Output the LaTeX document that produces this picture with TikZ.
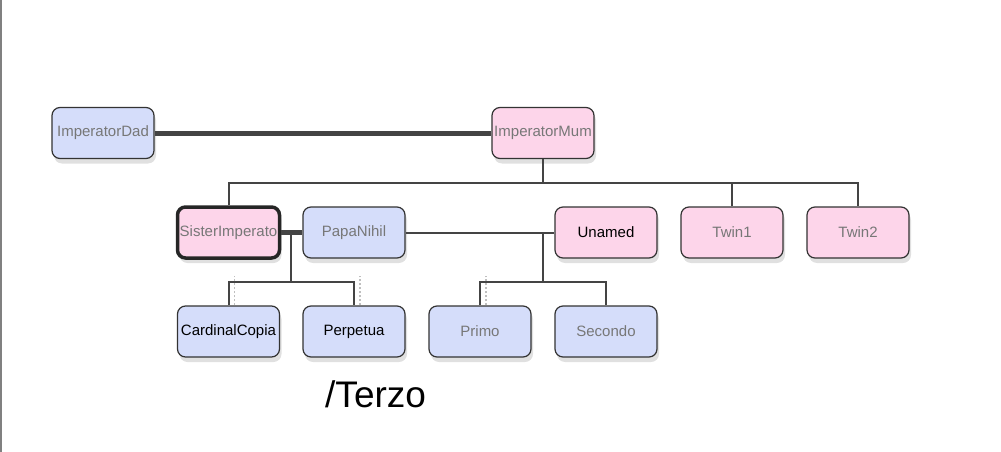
\documentclass[tikz,border=0pt]{standalone}
\usepackage{fontspec}
\setmainfont{Liberation Sans}
\usetikzlibrary{shadows,calc}
\definecolor{bluef}{HTML}{D5DDFA}
\definecolor{pinkf}{HTML}{FDD5EA}
\definecolor{edge}{HTML}{333333}
\definecolor{linec}{HTML}{444444}
\definecolor{txtgray}{HTML}{777777}
\tikzset{
  person/.style={rectangle, rounded corners=8pt, minimum width=102pt, minimum height=51pt,
    inner sep=0pt, draw=edge, line width=1.2pt, font=\fontsize{15}{17}\selectfont,
    drop shadow={shadow xshift=2pt, shadow yshift=-5pt, opacity=0.12, fill=black}},
  male/.style={person, fill=bluef},
  female/.style={person, fill=pinkf},
  grayt/.style={text=txtgray},
  conn/.style={draw=linec, line width=2pt},
  marriage/.style={draw=linec, line width=5pt},
  dashmark/.style={draw=gray!50, line width=1.5pt, dash pattern=on 2.5pt off 1.5pt},
}
\begin{document}
\begin{tikzpicture}[x=1pt,y=-1pt]
\useasboundingbox (0,0) rectangle (1001,452);
\fill[white] (0,0) rectangle (1001,452);
\draw[gray, line width=1.5pt] (1,0) -- (1,452);

% nodes
\node[male, grayt] (dad) at (103,133) {ImperatorDad};
\node[female, grayt] (mum) at (543,133) {ImperatorMum};
\node[female, grayt, line width=3.5pt, draw=black!85] (sister) at (228.5,232.5) {SisterImperato};
\node[male, grayt] (papa) at (354,232.5) {PapaNihil};
\node[female] (unamed) at (606,232.5) {Unamed};
\node[female, grayt] (twin1) at (732,232.5) {Twin1};
\node[female, grayt] (twin2) at (858,232.5) {Twin2};
\node[male] (copia) at (228.5,331.5) {CardinalCopia};
\node[male] (perpetua) at (354,331.5) {Perpetua};
\node[male, grayt] (primo) at (480,331.5) {Primo};
\node[male, grayt] (secondo) at (606,331.5) {Secondo};
\node[font=\fontsize{37}{40}\selectfont, anchor=west, inner sep=0pt] (terzo) at (325,394) {/Terzo};

% marriages
\draw[marriage] (dad.east) -- (mum.west);
\draw[marriage] (sister.east) -- (papa.west);

% children of Imperators
\coordinate (mumbus) at ($(mum.south)+(0,24)$);
\draw[conn] (mum.south) -- (mumbus);
\draw[conn] (sister.north) |- (mumbus) -| (twin2.north);
\draw[conn] (twin1.north) -- (twin1.north |- mumbus);

% children of Sister & Papa
\coordinate (spm) at (291,232.5);
\coordinate (spbus) at (291,282);
\draw[conn] (spm) -- (spbus);
\draw[conn] (copia.north) |- (spbus) -| (perpetua.north);

% Papa & Unamed
\draw[conn] (papa.east) -- (unamed.west);
\coordinate (pum) at (543,232.5);
\coordinate (pubus) at (543,282);
\draw[conn] (pum) -- (pubus);
\draw[conn] (primo.north) |- (pubus) -| (secondo.north);

% dotted markers
\draw[dashmark] ([xshift=6pt]copia.north) -- ++(0,-29);
\draw[dashmark] ([xshift=6pt]perpetua.north) -- ++(0,-29);
\draw[dashmark] ([xshift=6pt]primo.north) -- ++(0,-29);
\end{tikzpicture}
\end{document}
